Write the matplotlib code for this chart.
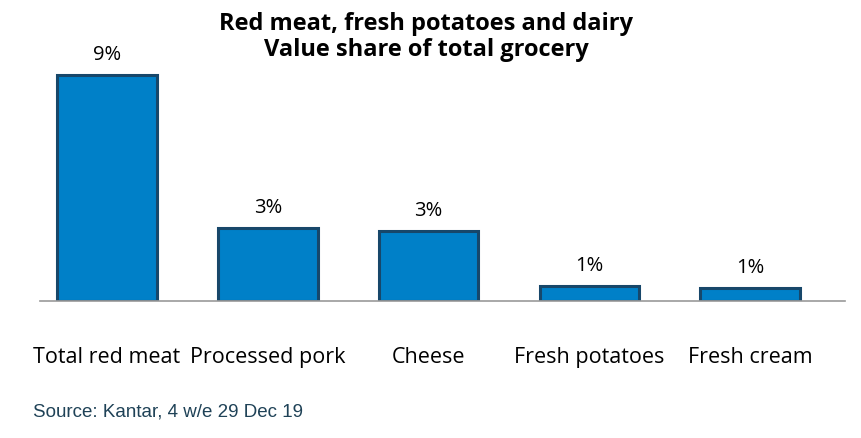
import matplotlib.pyplot as plt

# Kantar value share of total grocery, 4 w/e 29 Dec 19
categories = ['Total red meat', 'Processed pork', 'Cheese', 'Fresh potatoes', 'Fresh cream']
share = [9.0, 2.9, 2.8, 0.6, 0.52]

fig = plt.figure(figsize=(8.61, 4.38), dpi=100)
ax = fig.add_axes([40 / 861, 137 / 438, 805 / 861, 256 / 438])

x = range(len(categories))
bars = ax.bar(x, share, width=0.62, color='#0080C8', edgecolor='#17476A', linewidth=2.2)

for bar, v in zip(bars, share):
    ax.text(bar.get_x() + bar.get_width() / 2, bar.get_height() + 0.4, f'{v:.0f}%',
            ha='center', va='bottom', fontsize=14.5, family='Open Sans')

ax.set_xlim(-0.417, 4.59)
ax.set_ylim(0, 10.2)
ax.set_yticks([])
ax.set_xticks(list(x))
ax.set_xticklabels(categories, fontsize=15.5, family='Open Sans')
ax.tick_params(axis='x', length=0, pad=33)
for side in ['top', 'right', 'left']:
    ax.spines[side].set_visible(False)
ax.spines['bottom'].set_color('#999999')
ax.spines['bottom'].set_linewidth(1.2)

fig.text(0.495, 0.973, 'Red meat, fresh potatoes and dairy\nValue share of total grocery',
         ha='center', va='top', fontsize=17, fontweight='bold', family='Open Sans',
         linespacing=1.12)
fig.text(33 / 861, 1 - 412 / 438, 'Source: Kantar, 4 w/e 29 Dec 19', ha='left', va='center',
         fontsize=13.5, color='#1F4257', family='Liberation Sans')

fig.savefig('out.png', dpi=100)
